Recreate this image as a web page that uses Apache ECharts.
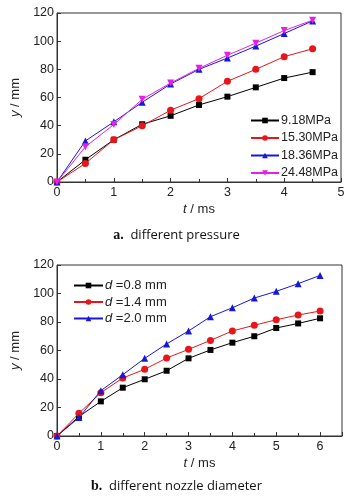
<!DOCTYPE html>
<html>
<head>
<meta charset="utf-8">
<script src="https://cdn.jsdelivr.net/npm/echarts@6/dist/echarts.min.js"></script>
<style>
html, body { margin: 0; padding: 0; background: #fff; }
#chart { width: 353px; height: 498px; }
</style>
</head>
<body>
<div id="chart"></div>
<script>
// chart a: different pressure
var timeA = [0, 0.5, 1, 1.5, 2, 2.5, 3, 3.5, 4, 4.5];
var pressNames = ['9.18MPa', '15.30MPa', '18.36MPa', '24.48MPa'];
var p918 = [0, 15.8, 30, 41, 47, 54.7, 60.6, 67.2, 73.8, 78];
var p1530 = [0, 13.2, 30, 39.9, 51, 59.2, 71.5, 80, 89, 94.6];
var p1836 = [0, 29.2, 42.7, 56.6, 69.6, 80, 88, 96.5, 105.4, 114.4];
var p2448 = [0, 25, 40.8, 58.7, 70.3, 80.7, 90, 98.6, 107.5, 114.9];

// chart b: different nozzle diameter
var timeB = [0, 0.5, 1, 1.5, 2, 2.5, 3, 3.5, 4, 4.5, 5, 5.5, 6];
var diaNames = ['0.8', '1.4', '2.0'];
var d08 = [0, 13.6, 24.3, 33.9, 39.8, 45.8, 54.5, 60.4, 65.5, 70, 75.8, 79, 82.6];
var d14 = [0, 15.9, 30.4, 40.7, 46.8, 54.7, 60.8, 67.1, 73.7, 77.7, 81.6, 84.9, 87.7];
var d20 = [0, 12.9, 31.8, 43, 54.5, 64.6, 73.7, 83.7, 90, 96.8, 101.5, 106.9, 112.7];

var yTicks = [0, 20, 40, 60, 80, 100, 120];

var font = 'Arial';
var black = '#000000', red = '#e8151b', blue = '#1717d8', magenta = '#e51fe5';

function pairs(xs, ys) {
    return xs.map(function (x, i) { return [x, ys[i]]; });
}

function xAxis(idx, max) {
    return {
        gridIndex: idx, type: 'value', min: 0, max: max, interval: 1,
        name: '{i|t} / ms', nameLocation: 'middle', nameGap: 21,
        nameTextStyle: { fontFamily: font, fontSize: 13, color: '#222',
            rich: { i: { fontStyle: 'italic', fontFamily: font, fontSize: 13, color: '#222' } } },
        axisLine: { lineStyle: { color: '#333' } },
        axisTick: { inside: true, length: 4, lineStyle: { color: '#333' } },
        minorTick: { show: true, splitNumber: 2, length: 3, lineStyle: { color: '#333' } },
        axisLabel: { fontFamily: font, fontSize: 12.5, color: '#222', margin: 4, showMaxLabel: max % 1 === 0,
            formatter: function (v) { return v % 1 === 0 ? String(v) : ''; } },
        splitLine: { show: false }
    };
}

function yAxis(idx) {
    return {
        gridIndex: idx, type: 'value', min: yTicks[0], max: yTicks[yTicks.length - 1], interval: 20,
        name: '{i|y} / mm', nameLocation: 'middle', nameGap: 30,
        nameTextStyle: { fontFamily: font, fontSize: 13, color: '#222',
            rich: { i: { fontStyle: 'italic', fontFamily: font, fontSize: 13, color: '#222' } } },
        axisLine: { lineStyle: { color: '#333' } },
        axisTick: { inside: true, length: 4, lineStyle: { color: '#333' } },
        axisLabel: { fontFamily: font, fontSize: 12.5, color: '#222', margin: 3 },
        splitLine: { show: false }
    };
}

function line(name, x, y, xi, color, symbol, size) {
    return {
        name: name, type: 'line', xAxisIndex: xi, yAxisIndex: xi,
        data: pairs(x, y), symbol: symbol, symbolSize: size, showSymbol: true,
        lineStyle: { color: color, width: 1 },
        itemStyle: { color: color },
        emphasis: { disabled: true }, animation: false
    };
}

var chart = echarts.init(document.getElementById('chart'));
var option = {
    animation: false,
    grid: [
        { left: 57, top: 13, width: 284, height: 169, show: true, borderColor: '#333', borderWidth: 1, outerBoundsMode: 'none' },
        { left: 57, top: 265, width: 285, height: 171, show: true, borderColor: '#333', borderWidth: 1, outerBoundsMode: 'none' }
    ],
    xAxis: [xAxis(0, 5), xAxis(1, 6.5)],
    yAxis: [yAxis(0), yAxis(1)],
    legend: [
        {
            data: pressNames, orient: 'vertical', left: 245, top: 109,
            itemWidth: 28, itemHeight: 7, itemGap: 4.5,
            textStyle: { fontFamily: font, fontSize: 12.5, color: '#222', padding: [0, 0, 0, -3] }
        },
        {
            data: diaNames.map(function (d) { return 'd' + d; }), orient: 'vertical', left: 68, top: 274,
            itemWidth: 29, itemHeight: 7, itemGap: 3.5,
            formatter: function (n) { return '{i|d} =' + n.slice(1) + ' mm'; },
            textStyle: { fontFamily: font, fontSize: 13, color: '#222', padding: [0, 0, 0, -3],
                rich: { i: { fontStyle: 'italic', fontFamily: font, fontSize: 13, color: '#222' } } }
        }
    ],
    series: [
        line(pressNames[0], timeA, p918, 0, black, 'rect', 6),
        line(pressNames[1], timeA, p1530, 0, red, 'circle', 7),
        line(pressNames[2], timeA, p1836, 0, blue, 'triangle', 7),
        line(pressNames[3], timeA, p2448, 0, magenta, 'path://M0,0 L10,0 L5,9 Z', 7),
        line('d' + diaNames[0], timeB, d08, 1, black, 'rect', 6),
        line('d' + diaNames[1], timeB, d14, 1, red, 'circle', 7),
        line('d' + diaNames[2], timeB, d20, 1, blue, 'triangle', 7)
    ],
    graphic: [
        {
            type: 'text', left: 'center', top: 228,
            style: { text: '{b|a.}  different pressure', font: '13px "Open Sans"', fill: '#111',
                rich: { b: { fontWeight: 'bold', fontFamily: 'Liberation Serif', fontSize: 14, fill: '#111' } } }
        },
        {
            type: 'text', left: 'center', top: 479,
            style: { text: '{b|b.}  different nozzle diameter', font: '13px "Open Sans"', fill: '#111',
                rich: { b: { fontWeight: 'bold', fontFamily: 'Liberation Serif', fontSize: 14, fill: '#111' } } }
        }
    ]
};
chart.setOption(option);
</script>
</body>
</html>
